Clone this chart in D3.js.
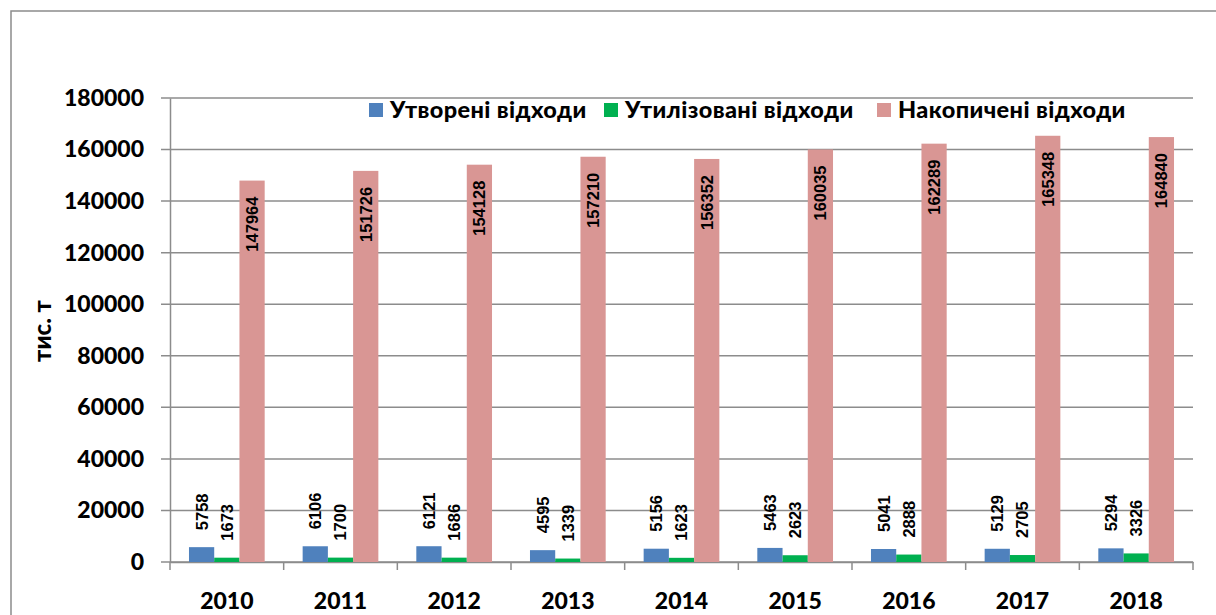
<!DOCTYPE html>
<html>
<head>
<meta charset="utf-8">
<script src="https://cdn.jsdelivr.net/npm/d3@7"></script>
<style>
    body { margin: 0; background: white; }
</style>
</head>
<body>
<div id="plotRegi"></div>
<script>
/* Data */
var years = ["2010", "2011", "2012", "2013", "2014", "2015", "2016", "2017", "2018"]
var created = [5758, 6106, 6121, 4595, 5156, 5463, 5041, 5129, 5294]
var utilized = [1673, 1700, 1686, 1339, 1623, 2623, 2888, 2705, 3326]
var accumulated = [147964, 151726, 154128, 157210, 156352, 160035, 162289, 165348, 164840]
var seriesNames = ["Утворені відходи", "Утилізовані відходи", "Накопичені відходи"]
var colors = ["#4F81BD", "#00B050", "#D99694"]
var yTicks = [0, 20000, 40000, 60000, 80000, 100000, 120000, 140000, 160000, 180000]

var series = [created, utilized, accumulated]

/* Sizes */
var W = 1216, H = 615
var margin = { top: 98, right: 23, bottom: 53, left: 170 },
    width = W - margin.left - margin.right,
    height = H - margin.top - margin.bottom

var svg = d3
    .select("#plotRegi")
    .append("svg")
    .attr("width", W)
    .attr("height", H)
    .style("font-family", "Lato, 'Open Sans', sans-serif")

// Outer chart frame
svg
    .append("rect")
    .attr("x", 11)
    .attr("y", 11)
    .attr("width", W)
    .attr("height", H)
    .style("fill", "white")
    .style("stroke", "#8c8c8c")
    .style("stroke-width", "1.5px")

var canvas = svg
    .append("g")
    .attr("transform", "translate(" + margin.left + "," + margin.top + ")")

// Scales
var scale_x = d3
    .scaleBand()
    .domain(years)
    .range([0, width])

var scale_y = d3
    .scaleLinear()
    .domain([0, 180000])
    .range([height, 0])

var bar_width = scale_x.bandwidth() * 0.222
var group_off = (scale_x.bandwidth() - bar_width * 3) / 2

// Gridlines
canvas
    .append("g")
    .selectAll("line")
    .data(yTicks)
    .enter()
    .append("line")
    .attr("x1", -9)
    .attr("x2", width)
    .attr("y1", d => scale_y(d))
    .attr("y2", d => scale_y(d))
    .style("stroke", "#8c8c8c")
    .style("stroke-width", "1.5px")

// Y axis
var axisY = canvas
    .append("g")
    .call(d3.axisLeft(scale_y).tickValues(yTicks).tickSize(0).tickPadding(26).tickFormat(d3.format("d")))
axisY.select(".domain").style("stroke", "#8c8c8c").style("stroke-width", "1.5px")
axisY.selectAll("text")
    .style("font-family", "Lato, sans-serif")
    .style("font-size", "23px")
    .style("font-weight", "900")
    .style("fill", "#000")

// X axis
var axisX = canvas
    .append("g")
    .attr("transform", "translate(0," + height + ")")
    .call(d3.axisBottom(scale_x).tickSize(0).tickPadding(31))
axisX.select(".domain").style("stroke", "#8c8c8c").style("stroke-width", "1.5px")
axisX.selectAll("text")
    .style("font-family", "Lato, sans-serif")
    .style("font-size", "23px")
    .style("font-weight", "900")
    .style("fill", "#000")

// Category separators on x axis
canvas
    .append("g")
    .selectAll("line")
    .data(years.concat(["end"]))
    .enter()
    .append("line")
    .attr("x1", (d, i) => i * scale_x.step())
    .attr("x2", (d, i) => i * scale_x.step())
    .attr("y1", height)
    .attr("y2", height + 8)
    .style("stroke", "#8c8c8c")
    .style("stroke-width", "1.5px")

// Bars
series.forEach(function (vals, s) {
    var g = canvas.append("g")

    g.selectAll("rect")
        .data(vals)
        .enter()
        .append("rect")
        .attr("x", (d, i) => scale_x(years[i]) + group_off + s * bar_width)
        .attr("y", d => scale_y(d))
        .attr("width", bar_width)
        .attr("height", d => height - scale_y(d))
        .style("fill", colors[s])

    // Value labels (rotated)
    g.selectAll("text")
        .data(vals)
        .enter()
        .append("text")
        .attr("transform", function (d, i) {
            var cx = scale_x(years[i]) + group_off + s * bar_width + bar_width / 2
            var cy = s == 2 ? scale_y(d) + 16 : scale_y(d) - 17
            return "translate(" + cx + "," + cy + ") rotate(-90)"
        })
        .attr("text-anchor", s == 2 ? "end" : "start")
        .attr("dy", "0.36em")
        .style("font-family", "'Liberation Sans', Arial, sans-serif")
        .style("font-size", "16.5px")
        .style("font-weight", "bold")
        .text(d => d)
})

// Legend
var legendX = [369, 604, 877]
var legend = svg.append("g")
seriesNames.forEach(function (name, s) {
    legend
        .append("rect")
        .attr("x", legendX[s])
        .attr("y", 103)
        .attr("width", 14)
        .attr("height", 14)
        .style("fill", colors[s])

    legend
        .append("text")
        .attr("x", legendX[s] + 21)
        .attr("y", 118)
        .style("font-size", "23.5px")
        .style("font-weight", "900")
        .style("letter-spacing", "0.4px")
        .text(name)
})

// Y axis title
svg
    .append("text")
    .attr("transform", "translate(51,331) rotate(-90)")
    .attr("text-anchor", "middle")
    .style("font-size", "24px")
    .style("font-weight", "900")
    .text("тис. т")
</script>
</body>
</html>
